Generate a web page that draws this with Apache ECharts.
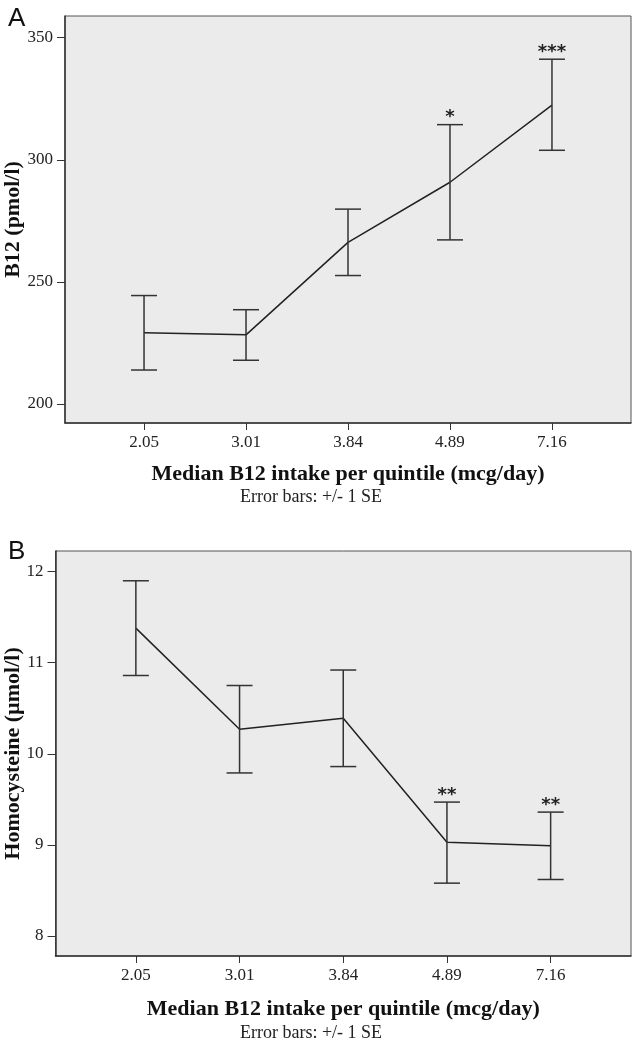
<!DOCTYPE html>
<html>
<head>
<meta charset="utf-8">
<script src="https://cdn.jsdelivr.net/npm/echarts@6/dist/echarts.min.js"></script>
<style>
html,body{margin:0;padding:0;background:#fff;}
#chart{width:636px;height:1042px;}
</style>
</head>
<body>
<div id="chart"></div>
<script>
// ---- data ----
const categories = ['2.05', '3.01', '3.84', '4.89', '7.16'];
// Panel A: serum B12 (pmol/l)
const b12Mean = [229.2, 228.3, 266.2, 290.8, 322.4];
const b12Low  = [213.9, 217.9, 252.6, 267.2, 303.9];
const b12High = [244.4, 238.6, 279.8, 314.4, 341.2];
const b12Sig  = ['', '', '', '*', '***'];
// Panel B: homocysteine (µmol/l)
const hcyMean = [11.38, 10.27, 10.39, 9.03, 8.99];
const hcyLow  = [10.86, 9.79, 9.86, 8.58, 8.62];
const hcyHigh = [11.90, 10.75, 10.92, 9.47, 9.36];
const hcySig  = ['', '', '', '**', '**'];
const b12Ticks = [200, 250, 300, 350];
const hcyTicks = [8, 9, 10, 11, 12];
const xTickPos = [0, 1, 2, 3, 4];

const SERIF = 'Liberation Serif';
const INK = '#222';

function lineData(mean){ return mean.map((v,i)=>[i, v]); }
function errData(low, high, sig){ return low.map((v,i)=>[i, v, high[i], sig[i]]); }

function renderErr(params, api){
  const x = api.value(0);
  const lo = api.coord([x, api.value(1)]);
  const hi = api.coord([x, api.value(2)]);
  const hw = 13;
  const st = {stroke:'#333', lineWidth:1.5};
  const children = [
    {type:'line', shape:{x1:lo[0], y1:lo[1], x2:hi[0], y2:hi[1]}, style:st},
    {type:'line', shape:{x1:lo[0]-hw, y1:lo[1], x2:lo[0]+hw, y2:lo[1]}, style:st},
    {type:'line', shape:{x1:hi[0]-hw, y1:hi[1], x2:hi[0]+hw, y2:hi[1]}, style:st}
  ];
  const sig = api.value(3);
  if (sig) {
    children.push({type:'text', style:{text:sig, x:hi[0], y:hi[1]+2, align:'center', verticalAlign:'bottom',
      fill:'#222', font:'bold 18px "DejaVu Sans"'}});
  }
  return {type:'group', children};
}

function xAxis(gridIndex, nameGap){
  return {
    type:'value', gridIndex, min:-0.775, max:4.775,
    name:'Median B12 intake per quintile (mcg/day)', nameLocation:'middle', nameGap,
    nameTextStyle:{fontFamily:SERIF, fontSize:22, fontWeight:'bold', color:'#111'},
    axisLine:{show:true, onZero:false, lineStyle:{color:'#333', width:1.5}},
    axisTick:{show:true, inside:false, length:7, customValues:xTickPos, lineStyle:{color:'#333', width:1}},
    axisLabel:{customValues:xTickPos, margin:11, fontFamily:SERIF, fontSize:17, color:INK,
      formatter:(v)=>categories[Math.round(v)]},
    splitLine:{show:false}
  };
}
function yAxis(gridIndex, min, max, ticks, name, nameGap){
  return {
    type:'value', gridIndex, min, max,
    name, nameLocation:'middle', nameGap, nameMoveOverlap:false,
    nameTextStyle:{fontFamily:SERIF, fontSize:22, fontWeight:'bold', color:'#111'},
    axisLine:{show:true, onZero:false, lineStyle:{color:'#333', width:1.5}},
    axisTick:{show:true, inside:false, length:8, customValues:ticks, lineStyle:{color:'#333', width:1}},
    axisLabel:{customValues:ticks, margin:12, fontFamily:SERIF, fontSize:17, color:INK},
    splitLine:{show:false}
  };
}

const chart = echarts.init(document.getElementById('chart'), null, {renderer:'canvas'});
chart.setOption({
  animation:false,
  backgroundColor:'#fff',
  title:[
    {text:'A', left:3, top:1, textStyle:{fontFamily:'Liberation Sans', fontSize:26, fontWeight:'normal', color:'#111'}},
    {text:'B', left:3, top:534, textStyle:{fontFamily:'Liberation Sans', fontSize:26, fontWeight:'normal', color:'#111'}}
  ],
  graphic:[
    {type:'text', x:311, y:497, style:{text:'Error bars: +/- 1 SE', align:'center', verticalAlign:'middle', font:'18px "Liberation Serif"', fill:INK}},
    {type:'text', x:311, y:1033, style:{text:'Error bars: +/- 1 SE', align:'center', verticalAlign:'middle', font:'18px "Liberation Serif"', fill:INK}}
  ],
  grid:[
    {left:65, right:5, top:16, height:407, outerBoundsMode:'none', containLabel:false, show:true, backgroundColor:'#ebebeb', borderColor:'#555', borderWidth:1},
    {left:55.5, right:5, top:551, height:405, outerBoundsMode:'none', containLabel:false, show:true, backgroundColor:'#ebebeb', borderColor:'#555', borderWidth:1}
  ],
  xAxis:[xAxis(0, 40), xAxis(1, 42)],
  yAxis:[
    yAxis(0, 192.2, 358.9, b12Ticks, 'B12 (pmol/l)', 41),
    yAxis(1, 7.78, 12.227, hcyTicks, 'Homocysteine (µmol/l)', 31.5)
  ],
  series:[
    {type:'line', xAxisIndex:0, yAxisIndex:0, data:lineData(b12Mean), symbol:'none', lineStyle:{color:INK, width:1.5}, z:3},
    {type:'custom', xAxisIndex:0, yAxisIndex:0, data:errData(b12Low, b12High, b12Sig), renderItem:renderErr, z:4},
    {type:'line', xAxisIndex:1, yAxisIndex:1, data:lineData(hcyMean), symbol:'none', lineStyle:{color:INK, width:1.5}, z:3},
    {type:'custom', xAxisIndex:1, yAxisIndex:1, data:errData(hcyLow, hcyHigh, hcySig), renderItem:renderErr, z:4}
  ]
});
</script>
</body>
</html>
